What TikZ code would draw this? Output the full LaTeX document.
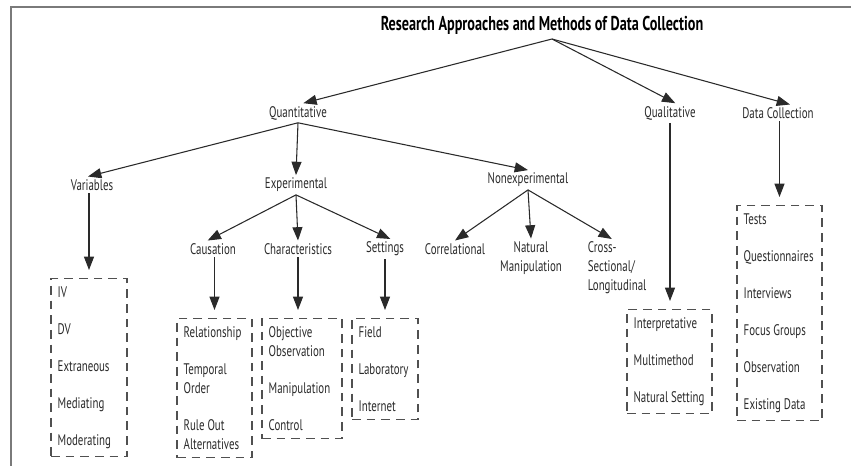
\documentclass[tikz,border=0pt]{standalone}
\usepackage{fontspec}
\setmainfont{PT Sans}[FakeStretch=0.71]
\usetikzlibrary{arrows.meta}
\definecolor{inkgray}{HTML}{2A2A2A}
\definecolor{framegray}{HTML}{7A7A7A}
\definecolor{boxgray}{HTML}{505050}
\newcommand{\itemgap}{\\[13.5pt]}
\tikzset{
  lbl/.style={text=inkgray, font=\fontsize{11.5}{14.25}\selectfont, inner sep=2pt, align=center},
  itembox/.style={draw=boxgray, dash pattern=on 6.5pt off 4.5pt, line width=0.9pt,
    text=inkgray, font=\fontsize{11.5}{14.25}\selectfont, align=flush left,
    inner xsep=5pt, inner ysep=6pt, anchor=north},
  arr/.style={draw=inkgray, line width=0.8pt, -{Triangle[length=10pt,width=7.5pt]}},
  downarr/.style={arr, shorten >=6pt},
}

\begin{document}
\begin{tikzpicture}[x=0.75pt,y=-0.75pt]
      \useasboundingbox (0,0) rectangle (851,466);
      \draw[color=framegray,line width=1.5pt] (11,466) -- (11,7) -- (851,7);

      \node[lbl,font=\fontsize{15}{17}\selectfont\bfseries,text=black] (title) at (542,25)
        {Research Approaches and Methods of Data Collection};
      \coordinate (titlefork) at (552,39);

      \node[lbl] (quant) at (298,113) {Quantitative};
      \node[lbl] (qual) at (670,113) {Qualitative};
      \node[lbl] (datac) at (778,113) {Data Collection};

      \node[lbl] (vars) at (92,185) {Variables};
      \node[lbl] (exper) at (296,185) {Experimental};
      \node[lbl] (nonexp) at (528,180) {Nonexperimental};

      \node[lbl] (caus) at (213,249) {Causation};
      \node[lbl] (charac) at (298,249) {Characteristics};
      \node[lbl] (sett) at (385,249) {Settings};
      \node[lbl] (correl) at (455,249) {Correlational};
      \node[lbl] (natman) at (531,258) {Natural\\Manipulation};
      \node[lbl,align=left,anchor=west] (cross) at (585,268) {Cross-\\Sectional/\\Longitudinal};

      \node[itembox,text width=47pt] (varbox) at (89,278)
        {IV\itemgap DV\itemgap Extraneous\itemgap Mediating\itemgap Moderating};
      \node[itembox,text width=46.25pt] (causbox) at (214.5,318)
        {Relationship\itemgap Temporal\\Order\itemgap Rule~Out\\Alternatives};
      \node[itembox,text width=50pt] (charbox) at (302,318)
        {Objective\\Observation\itemgap Manipulation\itemgap Control};
      \node[itembox,text width=39.5pt] (settbox) at (385,318)
        {Field\itemgap Laboratory\itemgap Internet};
      \node[itembox,text width=53.75pt] (qualbox) at (669.5,309)
        {Interpretative\itemgap Multimethod\itemgap Natural~Setting};
      \node[itembox,text width=53.75pt] (databox) at (779.5,205)
        {Tests\itemgap Questionnaires\itemgap Interviews\itemgap Focus~Groups\itemgap Observation\itemgap Existing~Data};

      \draw[arr] (titlefork) -- ([xshift=4pt]quant.north);
      \draw[arr] (titlefork) -- ([xshift=4pt]qual.north);
      \draw[arr] (titlefork) -- ([xshift=9pt]datac.north);

      \draw[arr] (quant.south) -- ([xshift=-3pt]vars.north);
      \draw[arr] (quant.south) -- (exper.north);
      \draw[arr] (quant.south) -- (nonexp.north);

      \draw[arr] (exper.south) -- ([xshift=-4pt]caus.north);
      \draw[arr] (exper.south) -- (charac.north);
      \draw[arr] (exper.south) -- ([xshift=4pt]sett.north);

      \draw[arr] (nonexp.south) -- (correl.north);
      \draw[arr] (nonexp.south) -- (natman.north);
      \draw[arr] (nonexp.south) -- ([xshift=-4pt]cross.north);

      \draw[downarr] (vars.south -| varbox.north) -- (varbox.north);
      \draw[downarr] (caus.south -| causbox.north) -- (causbox.north);
      \draw[downarr] (charac.south) -- (charac.south |- charbox.north);
      \draw[downarr] (sett.south) -- (settbox.north);
      \draw[downarr] (qual.south) -- (qual.south |- qualbox.north);
      \draw[downarr] (datac.south -| databox.north) -- (databox.north);
\end{tikzpicture}
\end{document}
